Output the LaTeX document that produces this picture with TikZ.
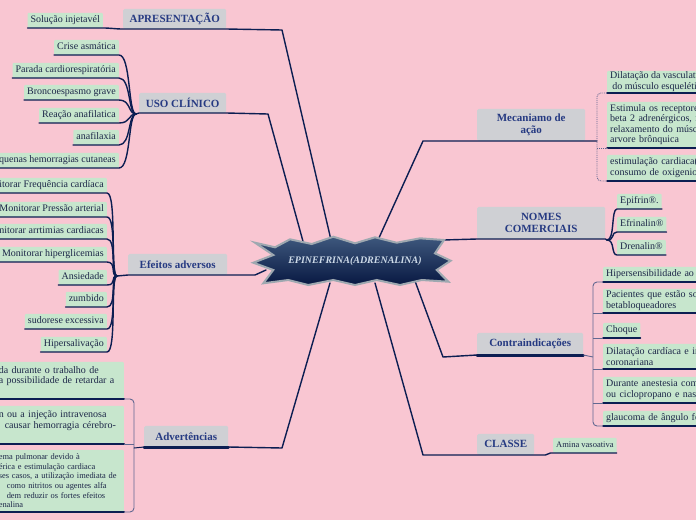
\documentclass[tikz,border=0pt]{standalone}
\usepackage{fontspec}
\setmainfont{Liberation Serif}
\usetikzlibrary{calc}

\definecolor{bgpink}{RGB}{249,198,210}
\definecolor{leafgreen}{RGB}{199,230,205}
\definecolor{boxgray}{RGB}{207,208,212}
\definecolor{linknavy}{RGB}{12,30,82}
\definecolor{titleblue}{RGB}{38,58,130}
\definecolor{leafink}{RGB}{28,38,72}
\definecolor{bracketgray}{RGB}{98,104,145}
\definecolor{startop}{RGB}{62,88,125}
\definecolor{starbot}{RGB}{8,24,66}
\definecolor{staredge}{RGB}{158,168,176}
\definecolor{starink}{RGB}{205,218,232}

\begin{document}
\begin{tikzpicture}[x=1pt, y=-1pt,
  mainbox/.style={fill=boxgray, rounded corners=1.5pt, text=titleblue, font=\fontsize{11}{12}\selectfont\bfseries, inner sep=0pt, align=center, anchor=south west},
  leaf/.style={fill=leafgreen, rounded corners=1pt, text=leafink, font=\fontsize{10}{10.5}\selectfont, inner xsep=3pt, inner ysep=1pt},
  leafline/.style={leaf, text height=7pt, text depth=2.5pt, minimum height=15pt},
  leafpar/.style={leaf, align=left},
  leafcut/.style={leafpar, text width=160pt},
  wire/.style={draw=linknavy, line width=1.4pt, line join=round, line cap=round},
  thickbar/.style={draw=linknavy, line width=3pt, line cap=round},
  brackline/.style={draw=bracketgray, line width=0.9pt, rounded corners=4pt},
]

  % Frame and background
  \useasboundingbox (0,0) rectangle (696,520);
  \clip (0,0) rectangle (696,520);
  \fill[bgpink] (0,0) rectangle (696,520);

  % Key coordinates: ends on the star, bends and junctions
  \coordinate (Eapres) at (331,240);   % star top left
  \coordinate (Euso)   at (304,245);
  \coordinate (Eefe)   at (266,270);   % star left tip
  \coordinate (Eadv)   at (330,283);   % star bottom left
  \coordinate (Emec)   at (378,240);   % star top right
  \coordinate (Enom)   at (443,240);
  \coordinate (Econ)   at (415,281);   % star bottom right
  \coordinate (Ecla)   at (375,283);
  \coordinate (Bapres) at (282,30);
  \coordinate (Buso)   at (268,114);
  \coordinate (Befe)   at (255,275);
  \coordinate (Badv)   at (282,448);
  \coordinate (Bmec)   at (423,141);
  \coordinate (Bcon)   at (443,357);
  \coordinate (Bcla)   at (423,455);
  \coordinate (Juso)   at (136,114);
  \coordinate (Jefe)   at (117,276);
  \coordinate (Jadv)   at (134,448);
  \coordinate (Jmec)   at (597,141);
  \coordinate (Jnom)   at (607,240);
  \coordinate (Jcon)   at (593,357);

  % Main topics (gray boxes)
  \node[mainbox, minimum width=103pt, minimum height=20pt] (apres) at (123,29) {APRESENTAÇÃO};
  \node[mainbox, minimum width=87pt, minimum height=20pt] (uso) at (139,113) {USO CLÍNICO};
  \node[mainbox, minimum width=99pt, minimum height=21pt] (efe) at (128,275) {Efeitos adversos};
  \node[mainbox, minimum width=84pt, minimum height=21pt] (adv) at (144,447) {Advertências};
  \node[mainbox, minimum width=108pt, minimum height=32pt] (mec) at (477,141) {Mecaniamo de\\ação};
  \node[mainbox, minimum width=128pt, minimum height=32pt] (nom) at (477,239) {NOMES\\COMERCIAIS};
  \node[mainbox, minimum width=106pt, minimum height=22pt] (con) at (477,355) {Contraindicações};
  \node[mainbox, minimum width=57pt, minimum height=21pt] (cla) at (477,455) {CLASSE};

  % --- APRESENTAÇÃO ---
  \node[leafline, anchor=south east] (sol) at (103,28) {Solução injetavél};
  \draw[wire] (sol.south west) -- (sol.south east) .. controls +(8,0) and +(-8,0) .. (apres.south west) -- (apres.south east) -- (Bapres) -- (Eapres);

  % --- USO CLÍNICO ---
  \draw[wire] (Juso) -- (uso.south west) -- (uso.south east) -- (Buso) -- (Euso);
  \foreach \txt/\yb [count=\i] in {Crise asmática/55, Parada cardiorespiratória/78, Broncoespasmo grave/100, Reação anafilatica/123, anafilaxia/145, Pequenas hemorragias cutaneas/168} {
    \node[leafline, anchor=south east] (uso\i) at (119,\yb) {\txt};
    \draw[wire] (uso\i.south west) -- (uso\i.south east) .. controls +(12,0) and +(-8,0) .. (Juso);
  }

  % --- EFEITOS ADVERSOS ---
  \draw[wire] (Jefe) -- (efe.south west) -- (efe.south east) -- (Befe) -- (Eefe);
  \foreach \txt/\yb [count=\i] in {Monitorar Frequência cardíaca/193, Monitorar Pressão arterial/217, Monitorar arrtimias cardiacas/239, Monitorar hiperglicemias/262, Ansiedade/285, zumbido/307, sudorese excessiva/329, Hipersalivação/352} {
    \node[leafline, anchor=south east] (efe\i) at (107,\yb) {\txt};
    \draw[wire] (efe\i.south west) -- (efe\i.south east) .. controls +(10,0) and +(-7,0) .. (Jefe);
  }

  % --- ADVERTÊNCIAS ---
  \node[leafpar, anchor=south east, text width=124pt, inner xsep=1pt, minimum height=37pt] (adv1) at (124,399) {\mbox{da durante o trabalho de}\\\mbox{a possibilidade de retardar a}\\\mbox{}};
  \node[leafpar, anchor=south east, text width=124pt, inner xsep=1pt, minimum height=38pt] (adv2) at (124,444) {\mbox{n ou a injeção intravenosa}\\\mbox{\hspace*{6pt}causar hemorragia cérebro-}\\\mbox{}};
  \node[leafpar, anchor=south east, text width=124pt, inner xsep=1pt, minimum height=62pt, font=\fontsize{8.4}{9.6}\selectfont] (adv3) at (124,512) {\mbox{ema pulmonar devido à}\\\mbox{érica e estimulação cardiaca}\\\mbox{ses casos, a utilização imediata de}\\\mbox{\hspace*{8pt}como nitritos ou agentes alfa}\\\mbox{\hspace*{8pt}dem reduzir os fortes efeitos}\\\mbox{enalina}};
  \foreach \n in {adv1, adv2, adv3}
    \draw[wire, line width=2pt] (\n.south west) -- (\n.south east);
  \draw[brackline] (adv1.south east) -- (adv1.south east -| Jadv) -- (adv3.south east -| Jadv) -- (adv3.south east);
  \draw[brackline] (adv2.south east) -- (adv2.south east -| Jadv);
  \draw[wire, line width=1pt] (Jadv) -- (adv.south west);
  \draw[thickbar] (adv.south west) -- (adv.south east);
  \draw[wire] (adv.south east) -- (Badv) -- (Eadv);

  % --- MECANIAMO DE AÇÃO ---
  \node[leafpar, align=center, anchor=south west, minimum height=22pt] (mec1) at (607,93) {Dilatação da vasculatura\\do músculo esquelético};
  \node[leafcut, anchor=south west, minimum height=46pt] (mec2) at (607,148) {Estimula os receptores\\beta 2 adrenérgicos, r\\relaxamento do músculo\\arvore brônquica};
  \node[leafcut, anchor=south west, minimum height=26pt] (mec3) at (607,181) {estimulação cardiaca(\\consumo de oxigenio};
  \foreach \n in {mec1, mec2, mec3}
    \draw[wire] (\n.south west) -- (\n.south east);
  \draw[wire] (Emec) -- (Bmec) -- (mec.south west) -- (mec.south east) -- (Jmec);
  \draw[brackline, densely dotted] (mec1.south west) -- (mec1.south west -| Jmec) -- (mec3.south west -| Jmec) -- (mec3.south west);
  \draw[brackline, densely dotted] (mec2.south west -| Jmec) -- (mec2.south west);

  % --- NOMES COMERCIAIS ---
  \draw[wire] (Enom) -- (nom.south west) -- (nom.south east) -- (Jnom);
  \foreach \txt/\yb [count=\i] in {Epifrin®./209, Efrinalin®/232, Drenalin®/255} {
    \node[leafline, anchor=south west] (nom\i) at (617,\yb) {\txt};
    \draw[wire] (Jnom) .. controls +(8,0) and +(-6,0) .. (nom\i.south west) -- (nom\i.south east);
  }

  % --- CONTRAINDICAÇÕES ---
  \node[leafcut, anchor=south west, minimum height=15pt] (con1) at (603,282) {Hipersensibilidade ao};
  \node[leafcut, anchor=south west, minimum height=24pt] (con2) at (603,313) {Pacientes que estão sob\\betabloqueadores};
  \node[leafline, anchor=south west] (con3) at (603,338) {Choque};
  \node[leafcut, anchor=south west, minimum height=25pt] (con4) at (603,369) {Dilatação cardíaca e insuficiência\\coronariana};
  \node[leafcut, anchor=south west, minimum height=26pt] (con5) at (603,403) {Durante anestesia com\\ou ciclopropano e nas};
  \node[leafcut, anchor=south west, minimum height=15pt] (con6) at (603,426) {glaucoma de ângulo fechado};
  \foreach \n in {con1, con2, con3, con4, con5, con6}
    \draw[wire] (\n.south west) -- (\n.south east);
  \draw[brackline] (con1.south west) -- (con1.south west -| Jcon) -- (con6.south west -| Jcon) -- (con6.south west);
  \foreach \n in {con2, con3, con4, con5}
    \draw[brackline] (\n.south west -| Jcon) -- (\n.south west);
  \draw[wire] (Econ) -- (Bcon) -- (con.south west);
  \draw[thickbar] (con.south west) -- (con.south east);
  \draw[brackline] (con.south east) -- (Jcon);

  % --- CLASSE ---
  \node[leafline, anchor=south west, font=\fontsize{8.5}{10}\selectfont] (ami) at (553,453) {Amina vasoativa};
  \draw[wire] (Ecla) -- (Bcla) -- (cla.south west) -- (cla.south east) -- ++(11,0) -- ++(5,-2) -- (ami.south west) -- (ami.south east);

  % Central topic (star)
  \shadedraw[top color=startop, bottom color=starbot, draw=staredge, line width=2pt]
    (255,242.7) -- (275,247.3) -- (290,239.3) -- (311.7,244) -- (333.3,236.7) -- (355,243.3)
    -- (375,237.3) -- (396.7,242.7) -- (420,238.3) -- (444,240) -- (435,253.3) -- (450.7,260.7)
    -- (436.7,270) -- (448.3,281.7) -- (421.7,280) -- (400,285) -- (376.7,280) -- (355,285)
    -- (333.3,280) -- (308.3,285) -- (288.3,280) -- (263.3,283.3) -- (273.3,270) -- (253.3,262.7)
    -- (273.3,255) -- cycle;
  \node[font=\fontsize{10}{12}\selectfont\bfseries\itshape, text=starink] (epi) at (355,261) {EPINEFRINA(ADRENALINA)};

\end{tikzpicture}
\end{document}
